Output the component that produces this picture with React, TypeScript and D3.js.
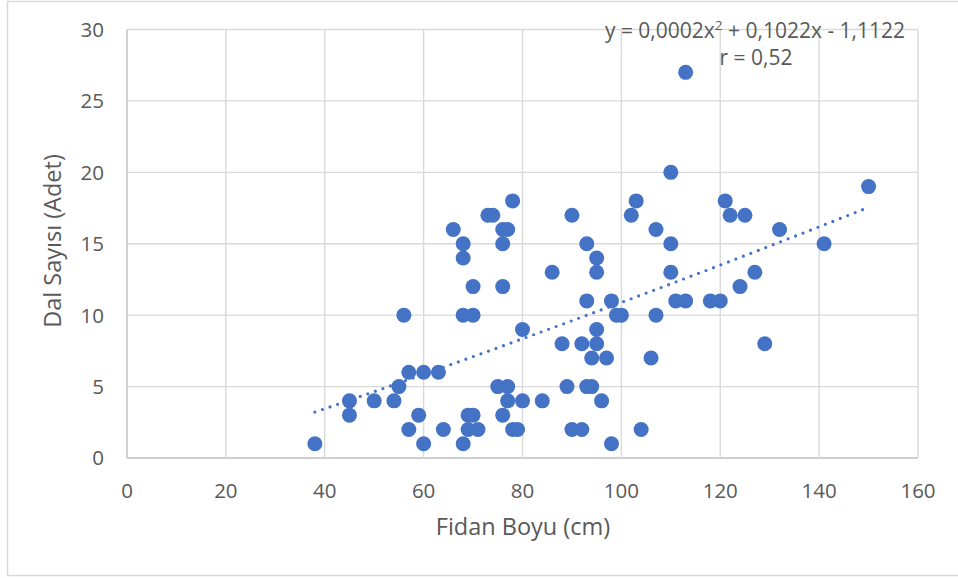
import * as d3 from "d3";
import React, { useEffect, useRef } from "react";

// Fidan Boyu (cm) vs Dal Sayısı (Adet)
const fidanBoyu: number[] = [
	38, 45, 45, 50, 54, 55, 56, 57, 57, 59, 60, 60, 63, 64, 66, 68, 68, 68, 68,
	69, 69, 70, 70, 70, 71, 73, 74, 75, 76, 76, 76, 76, 77, 77, 77, 78, 78, 79,
	80, 80, 84, 86, 88, 89, 90, 90, 92, 92, 93, 93, 93, 94, 94, 95, 95, 95, 95,
	96, 97, 98, 98, 99, 100, 102, 103, 104, 106, 107, 107, 110, 110, 110, 111,
	113, 113, 118, 120, 121, 122, 124, 125, 127, 129, 132, 141, 150,
];
const dalSayisi: number[] = [
	1, 4, 3, 4, 4, 5, 10, 6, 2, 3, 6, 1, 6, 2, 16, 15, 14, 10, 1,
	3, 2, 12, 10, 3, 2, 17, 17, 5, 16, 15, 12, 3, 16, 5, 4, 18, 2, 2,
	9, 4, 4, 13, 8, 5, 17, 2, 8, 2, 15, 11, 5, 7, 5, 14, 13, 9, 8,
	4, 7, 11, 1, 10, 10, 17, 18, 2, 7, 16, 10, 20, 15, 13, 11,
	27, 11, 11, 11, 18, 17, 12, 17, 13, 8, 16, 15, 19,
];

const xTicks: number[] = [0, 20, 40, 60, 80, 100, 120, 140, 160];
const yTicks: number[] = [0, 5, 10, 15, 20, 25, 30];

const xTitle = "Fidan Boyu (cm)";
const yTitle = "Dal Sayısı (Adet)";
const eqParts: string[] = ["y = 0,0002x", "2", " + 0,1022x - 1,1122"];
const rLabel = "r = 0,52";

// least squares 2nd order polynomial (Excel trendline)
const polyFit = (xs: number[], ys: number[]) => {
	const s = (p: number, q: number) =>
		d3.sum(xs, (x, i) => Math.pow(x, p) * Math.pow(ys[i], q));
	const m = [
		[s(4, 0), s(3, 0), s(2, 0), s(2, 1)],
		[s(3, 0), s(2, 0), s(1, 0), s(1, 1)],
		[s(2, 0), s(1, 0), xs.length, s(0, 1)],
	];
	for (let c = 0; c < 3; c++) {
		for (let r = c + 1; r < 3; r++) {
			const f = m[r][c] / m[c][c];
			for (let k = c; k < 4; k++) m[r][k] -= f * m[c][k];
		}
	}
	const out = [0, 0, 0];
	for (let r = 2; r >= 0; r--) {
		let v = m[r][3];
		for (let k = r + 1; k < 3; k++) v -= m[r][k] * out[k];
		out[r] = v / m[r][r];
	}
	return out; // a, b, c
};

const App = () => {
	const ref = useRef<SVGSVGElement>(null);

	useEffect(() => {
		const width = 958;
		const font = "'Open Sans', sans-serif";
		const textColor = "#595959";
		const gridColor = "#D9D9D9";
		const blue = "#4472C4";

		const svg = d3.select(ref.current);
		svg.selectAll("*").remove();

		svg.append("rect")
			.attr("x", 7.5)
			.attr("y", 1.5)
			.attr("width", width + 10)
			.attr("height", 574)
			.attr("fill", "#fff")
			.attr("stroke", gridColor)
			.attr("stroke-width", 1.5);

		const xScale = d3.scaleLinear().domain([0, 160]).range([127, 918]);
		const yScale = d3.scaleLinear().domain([0, 30]).range([458, 29.5]);

		// gridlines
		svg.append("g")
			.selectAll("line")
			.data(yTicks)
			.join("line")
			.attr("x1", xScale(0))
			.attr("x2", xScale(160))
			.attr("y1", (d) => yScale(d))
			.attr("y2", (d) => yScale(d))
			.attr("stroke", (d) => (d === 0 ? "#BFBFBF" : gridColor))
			.attr("stroke-width", 1.4);
		svg.append("g")
			.selectAll("line")
			.data(xTicks)
			.join("line")
			.attr("x1", (d) => xScale(d))
			.attr("x2", (d) => xScale(d))
			.attr("y1", yScale(0))
			.attr("y2", yScale(30))
			.attr("stroke", (d) => (d === 0 ? "#BFBFBF" : gridColor))
			.attr("stroke-width", 1.4);

		// tick labels
		svg.append("g")
			.selectAll("text")
			.data(yTicks)
			.join("text")
			.attr("x", 104)
			.attr("y", (d) => yScale(d) + 7.4)
			.attr("text-anchor", "end")
			.attr("font-family", font)
			.attr("font-size", 20.5)
			.attr("fill", textColor)
			.text((d) => d);
		svg.append("g")
			.selectAll("text")
			.data(xTicks)
			.join("text")
			.attr("x", (d) => xScale(d))
			.attr("y", 497.5)
			.attr("text-anchor", "middle")
			.attr("font-family", font)
			.attr("font-size", 20.5)
			.attr("fill", textColor)
			.text((d) => d);

		// axis titles
		svg.append("text")
			.attr("x", 523)
			.attr("y", 535)
			.attr("text-anchor", "middle")
			.attr("font-family", font)
			.attr("font-size", 23.5)
			.attr("fill", textColor)
			.text(xTitle);
		svg.append("text")
			.attr("transform", "translate(61, 241) rotate(-90)")
			.attr("text-anchor", "middle")
			.attr("font-family", font)
			.attr("font-size", 23.5)
			.attr("fill", textColor)
			.text(yTitle);

		// trendline
		const [a, b, c] = polyFit(fidanBoyu, dalSayisi);
		const xMin = d3.min(fidanBoyu) as number;
		const xMax = d3.max(fidanBoyu) as number;
		const trend = d3.range(xMin, xMax + 0.5, 1).map((x) => [x, a * x * x + b * x + c]);
		svg.append("path")
			.datum(trend)
			.attr("fill", "none")
			.attr("stroke", blue)
			.attr("stroke-width", 3.2)
			.attr("stroke-linecap", "round")
			.attr("stroke-dasharray", "0 8")
			.attr(
				"d",
				d3
					.line<number[]>()
					.x((d) => xScale(d[0]))
					.y((d) => yScale(d[1]))
			);

		// points
		svg.append("g")
			.selectAll("circle")
			.data(fidanBoyu)
			.join("circle")
			.attr("cx", (d) => xScale(d))
			.attr("cy", (d, i) => yScale(dalSayisi[i]))
			.attr("r", 7.5)
			.attr("fill", blue);

		// equation label
		const eq = svg.append("text")
			.attr("x", 755)
			.attr("y", 38)
			.attr("text-anchor", "middle")
			.attr("font-family", font)
			.attr("font-size", 21)
			.attr("fill", textColor);
		eq.append("tspan").text(eqParts[0]);
		eq.append("tspan")
			.attr("dy", -8)
			.attr("font-size", 13.5)
			.text(eqParts[1]);
		eq.append("tspan").attr("dy", 8).text(eqParts[2]);
		svg.append("text")
			.attr("x", 756)
			.attr("y", 65)
			.attr("text-anchor", "middle")
			.attr("font-family", font)
			.attr("font-size", 21)
			.attr("fill", textColor)
			.text(rLabel);
	});

	return (
		<svg
			ref={ref}
			width={958}
			height={578}
			style={{ position: "absolute", left: 0, top: 0, display: "block" }}
		></svg>
	);
};

export default App;
